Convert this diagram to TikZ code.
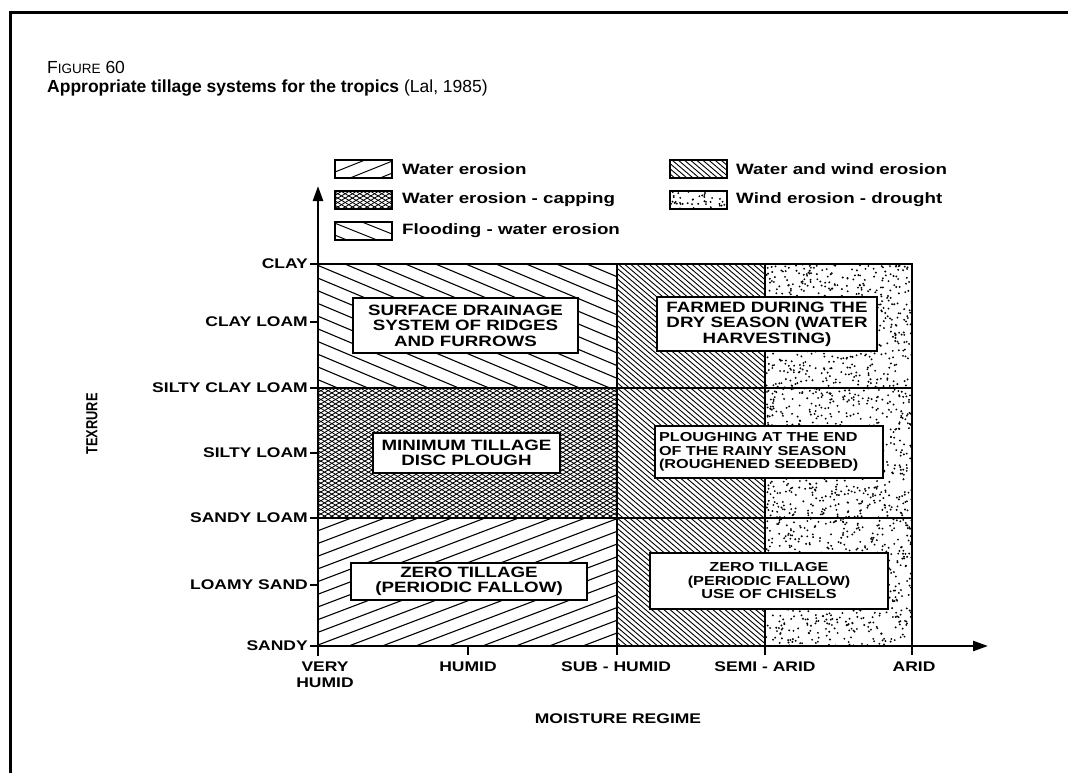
\documentclass[tikz,border=0pt]{standalone}
\usepackage{fontspec}
\setmainfont{Liberation Sans}
\newfontfamily\widef[FakeStretch=1.25]{Liberation Sans}
\newfontfamily\narrowf[FakeStretch=0.8]{Liberation Sans}
\usetikzlibrary{arrows.meta}

% hatch lines inside a rectangle: x1 y1 x2 y2 slope vspacing linewidth
\newcommand\hatchrect[7]{%
  \begin{scope}
    \clip (#1,#2) rectangle (#3,#4);
    \pgfmathsetmacro\hw{#3-#1}%
    \pgfmathsetmacro\ystart{#2-max(#5,0)*\hw}%
    \pgfmathtruncatemacro\hN{((#4-#2)+abs(#5)*\hw)/#6+1}%
    \foreach \k in {0,...,\hN}{%
      \pgfmathsetmacro\ya{\ystart+\k*#6}%
      \pgfmathsetmacro\yb{\ya+#5*\hw}%
      \draw[line width=#7] (#1,\ya) -- (#3,\yb);
    }%
  \end{scope}}
% random stipple: x1 y1 x2 y2 count
\newcommand\stipplerect[5]{%
  \begin{scope}
    \clip (#1,#2) rectangle (#3,#4);
    \foreach \k in {1,...,#5}{%
      \pgfmathsetmacro\dotx{#1+(#3-#1)*rnd}%
      \pgfmathsetmacro\doty{#2+(#4-#2)*rnd}%
      \fill (\dotx,\doty) circle (1.05);
    }%
  \end{scope}}

\tikzset{
  axisline/.style={line width=2.5pt},
  gridline/.style={line width=2.2pt},
  tickline/.style={line width=1.6pt},
  legbox/.style={line width=1.4pt},
  cellbox/.style={draw, fill=white, line width=1.4pt, inner sep=0pt},
  celltext/.style={font=\widef\bfseries\fontsize{15}{15.5}\selectfont},
  smalltext/.style={font=\widef\bfseries\fontsize{13}{13.5}\selectfont},
  axlabel/.style={font=\widef\bfseries\fontsize{14}{15.5}\selectfont, inner sep=0pt},
  legtext/.style={font=\widef\bfseries\fontsize{15}{17}\selectfont, anchor=west, inner sep=0pt},
}

\begin{document}
\begin{tikzpicture}[x=1pt,y=-1pt]
\useasboundingbox (0,0) rectangle (1068,773);
\fill[white] (0,0) rectangle (1068,773);

% outer frame
\draw[line width=3pt] (1070,13) -- (10,13) -- (10,775);

% caption
\node[anchor=base west, inner sep=0pt] (figno) at (47,74)
  {\fontsize{17.5}{20}\selectfont F{\fontsize{13.5}{16}\selectfont IGURE} 60};
\node[anchor=base west, inner sep=0pt] (title) at (47,93)
  {\fontsize{17.5}{20}\selectfont\textbf{Appropriate tillage systems for the tropics} (Lal, 1985)};

% ---------- cells ----------
% flooding - water erosion
\hatchrect{318}{264}{617}{388}{0.42}{12.7}{1.1pt}
% water erosion - capping (crosshatch)
\hatchrect{318}{388}{617}{518}{0.6}{4.4}{0.85pt}
\hatchrect{318}{388}{617}{518}{-0.6}{4.4}{0.85pt}
% water erosion
\hatchrect{318}{518}{617}{646}{-0.38}{12.7}{1.1pt}
% water and wind erosion
\hatchrect{617}{264}{765}{646}{0.85}{5.2}{0.9pt}
% wind erosion - drought
\pgfmathsetseed{4242}
\stipplerect{765}{264}{912}{646}{1700}

% grid
\draw[gridline] (318,264) -- (912,264) -- (912,646);
\draw[gridline] (617,264) -- (617,646);
\draw[gridline] (765,264) -- (765,646);
\draw[gridline] (318,388) -- (912,388);
\draw[gridline] (318,518) -- (912,518);

% axes
\coordinate (yfoot) at (318,656);
\coordinate (ytip) at (318,186);
\coordinate (xfoot) at (312,646);
\coordinate (xtip) at (988,646);
\draw[axisline, -{Triangle[length=15pt,width=10pt]}] (yfoot) -- (ytip);
\draw[axisline, -{Triangle[length=15pt,width=10pt]}] (xfoot) -- (xtip);

% y ticks and labels
\foreach \yy/\lab/\nm in {264/CLAY/ya, 322/CLAY LOAM/yb, 388/SILTY CLAY LOAM/yc,
    453/SILTY LOAM/yd, 518/SANDY LOAM/ye, 585/LOAMY SAND/yf, 646/SANDY/yg}{
  \draw[tickline] (310,\yy) -- (318,\yy);
  \node[axlabel, anchor=east] (\nm) at (308,\yy) {\lab};
}
\node[font=\narrowf\bfseries\fontsize{16}{18}\selectfont, rotate=90, inner sep=0pt] (texture) at (92,424) {TEXRURE};

% x ticks and labels
\foreach \xx in {468,617,765,912}{
  \draw[tickline] (\xx,646) -- (\xx,655);
}
\node[axlabel, anchor=north, align=center] (xa) at (325,662) {VERY\\HUMID};
\node[axlabel, anchor=north] (xb) at (468,662) {HUMID};
\node[axlabel, anchor=north] (xc) at (616,662) {SUB - HUMID};
\node[axlabel, anchor=north] (xd) at (765,662) {SEMI - ARID};
\node[axlabel, anchor=north] (xe) at (914,662) {ARID};
\node[axlabel, anchor=north] (xtitle) at (618,714) {MOISTURE REGIME};

% ---------- cell text boxes ----------
\node[cellbox, celltext, align=center, minimum width=225pt, minimum height=55pt] (c1) at (465.5,325.5)
  {SURFACE DRAINAGE\\SYSTEM OF RIDGES\\AND FURROWS};
\node[cellbox, celltext, align=center, minimum width=187pt, minimum height=40pt] (c2) at (466.5,453)
  {MINIMUM TILLAGE\\DISC PLOUGH};
\node[cellbox, celltext, align=center, minimum width=236pt, minimum height=37pt] (c3) at (469,581.5)
  {ZERO TILLAGE\\(PERIODIC FALLOW)};
\node[cellbox, celltext, align=center, minimum width=220pt, minimum height=54pt] (c4) at (767,324)
  {FARMED DURING THE\\DRY SEASON (WATER\\HARVESTING)};
\node[cellbox, smalltext, align=left, text width=220pt, inner xsep=4pt, minimum height=52pt] (c5) at (769,452)
  {PLOUGHING AT THE END\\OF THE RAINY SEASON\\(ROUGHENED SEEDBED)};
\node[cellbox, smalltext, align=center, minimum width=238pt, minimum height=56pt] (c6) at (769,581)
  {ZERO TILLAGE\\(PERIODIC FALLOW)\\USE OF CHISELS};

% ---------- legend ----------
% row 1 left: water erosion
\hatchrect{335}{160}{392}{178}{-0.4}{12}{1pt}
\draw[legbox] (335,160) rectangle (392,178);
\node[legtext] (l1) at (402,169) {Water erosion};
% row 2 left: capping
\hatchrect{335}{191}{392}{209}{0.6}{4.4}{0.85pt}
\hatchrect{335}{191}{392}{209}{-0.6}{4.4}{0.85pt}
\draw[legbox] (335,191) rectangle (392,209);
\node[legtext] (l2) at (402,200) {Water erosion - capping};
% row 3 left: flooding
\hatchrect{335}{222}{392}{240}{0.4}{12}{1pt}
\draw[legbox] (335,222) rectangle (392,240);
\node[legtext] (l3) at (402,231) {Flooding - water erosion};
% row 1 right: water and wind erosion
\hatchrect{670}{160}{727}{178}{0.85}{5.2}{0.9pt}
\draw[legbox] (670,160) rectangle (727,178);
\node[legtext] (l4) at (736,169) {Water and wind erosion};
% row 2 right: wind erosion - drought
\stipplerect{670}{191}{727}{209}{40}
\draw[legbox] (670,191) rectangle (727,209);
\node[legtext] (l5) at (736,200) {Wind erosion - drought};
\end{tikzpicture}
\end{document}
